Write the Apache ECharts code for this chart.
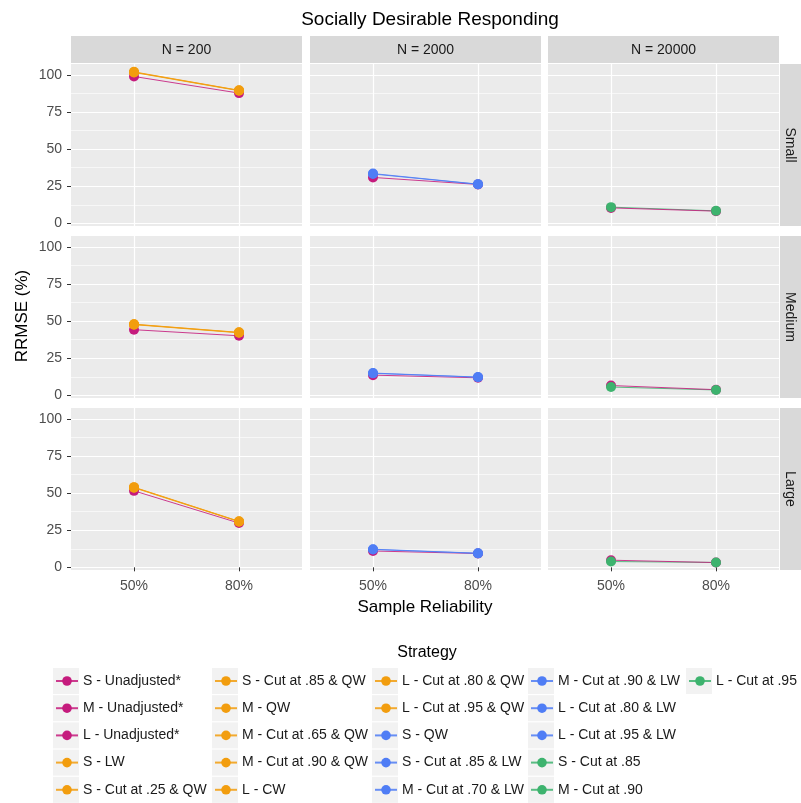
<!DOCTYPE html>
<html>
<head>
<meta charset="utf-8">
<script src="https://cdn.jsdelivr.net/npm/echarts@6/dist/echarts.min.js"></script>
<style>
  html, body { margin: 0; padding: 0; background: #fff; }
  #chart { width: 801px; height: 803px; }
</style>
</head>
<body>
<div id="chart"></div>
<script>
// facets
var sampleSizes = ['N = 200', 'N = 2000', 'N = 20000'];
var modelSizes = ['Small', 'Medium', 'Large'];
var reliability = ['50%', '80%'];
var yTicks = [0, 25, 50, 75, 100];
var yMinorTicks = [12.5, 37.5, 62.5, 87.5];

// strategies, in legend order
var strategyNames = [
    'S - Unadjusted*', 'M - Unadjusted*', 'L - Unadjusted*', 'S - LW', 'S - Cut at .25 & QW',
    'S - Cut at .85 & QW', 'M - QW', 'M - Cut at .65 & QW', 'M - Cut at .90 & QW', 'L - CW',
    'L - Cut at .80 & QW', 'L - Cut at .95 & QW', 'S - QW', 'S - Cut at .85 & LW', 'M - Cut at .70 & LW',
    'M - Cut at .90 & LW', 'L - Cut at .80 & LW', 'L - Cut at .95 & LW', 'S - Cut at .85', 'M - Cut at .90',
    'L - Cut at .95'
];
var strategyGroup = [0, 0, 0, 1, 1, 1, 1, 1, 1, 1, 1, 1, 2, 2, 2, 2, 2, 2, 3, 3, 3];
var strategyRow = [0, 1, 2, 0, 0, 0, 1, 1, 1, 2, 2, 2, 0, 0, 1, 1, 2, 2, 0, 1, 2];
var groupColors = ['#C51B7D', '#F29D0E', '#4F7DF5', '#3DB36E'];

// RRMSE (%) per strategy, for each N at 50% and 80% reliability
var n200At50 = [98.9, 44.2, 51.5, 102.0, 101.6, 101.8, 47.9, 47.6, 47.8, 54.0, 53.6, 53.8,
    null, null, null, null, null, null, null, null, null];
var n200At80 = [87.7, 40.1, 29.8, 89.6, 89.3, 89.5, 42.4, 42.1, 42.3, 31.0, 30.7, 30.9,
    null, null, null, null, null, null, null, null, null];
var n2000At50 = [30.9, 13.6, 11.0, null, null, null, null, null, null, null, null, null,
    33.5, 33.2, 15.0, 14.8, 12.2, 12.0, null, null, null];
var n2000At80 = [26.2, 11.8, 9.3, null, null, null, null, null, null, null, null, null,
    26.4, 26.3, 12.3, 12.2, 9.5, 9.4, null, null, null];
var n20000At50 = [10.4, 6.6, 4.8, null, null, null, null, null, null, null, null, null,
    null, null, null, null, null, null, 10.9, 5.6, 3.9];
var n20000At80 = [8.2, 3.8, 3.2, null, null, null, null, null, null, null, null, null,
    null, null, null, null, null, null, 8.4, 3.6, 3.3];

var valuesAt50 = [n200At50, n2000At50, n20000At50];
var valuesAt80 = [n200At80, n2000At80, n20000At80];

// layout
var FONT = '"Liberation Sans", Arial, sans-serif';
var gridLeft = [71, 310, 548];
var gridTop = [64, 236, 408];
var gridW = 231;
var gridH = 162;
var legendX = [53, 212, 372, 528, 686];
var legendY = 668;
var legendRow = 27.2;

var chart = echarts.init(document.getElementById('chart'));

var grids = [], xAxes = [], yAxes = [], minorAxes = [], lineSeries = [], pointSeries = [], graphics = [];

for (var r = 0; r < 3; r++) {
    for (var c = 0; c < 3; c++) {
        var g = r * 3 + c;
        grids.push({
            left: gridLeft[c], top: gridTop[r], width: gridW, height: gridH,
            show: true, backgroundColor: '#EBEBEB', borderWidth: 0
        });
        xAxes.push({
            type: 'value', gridIndex: g, min: 0.4, max: 2.6,
            axisLine: {show: false},
            axisTick: {show: r === 2, customValues: [1, 2], length: 4, lineStyle: {color: '#333'}},
            axisLabel: {
                show: r === 2, customValues: [1, 2], margin: 9,
                color: '#4D4D4D', fontSize: 14, fontFamily: FONT,
                formatter: function (v) { return reliability[Math.round(v) - 1]; }
            },
            splitLine: {show: true, customValues: [1, 2], lineStyle: {color: '#fff', width: 1.2}}
        });
        yAxes.push({
            type: 'value', gridIndex: g, min: -1.8, max: 107.3,
            axisLine: {show: false},
            axisTick: {show: c === 0, customValues: yTicks, length: 4, lineStyle: {color: '#333'}},
            axisLabel: {
                show: c === 0, customValues: yTicks, margin: 9,
                color: '#4D4D4D', fontSize: 14, fontFamily: FONT
            },
            splitLine: {show: true, customValues: yTicks, lineStyle: {color: '#fff', width: 1.2}}
        });
        minorAxes.push({
            type: 'value', gridIndex: g, min: -1.8, max: 107.3, position: 'right',
            axisLine: {show: false},
            axisTick: {show: false, customValues: yMinorTicks},
            axisLabel: {show: false, customValues: yMinorTicks},
            splitLine: {show: true, customValues: yMinorTicks, lineStyle: {color: '#fff', width: 0.6}}
        });
    }
}

// lines go under all points; in the N = 20000 column the green line sits under the magenta one
strategyNames.forEach(function (name, i) {
    var color = groupColors[strategyGroup[i]];
    for (var c = 0; c < 3; c++) {
        var a = valuesAt50[c][i], b = valuesAt80[c][i];
        if (a == null) continue;
        var g = strategyRow[i] * 3 + c;
        var data = [[1, a], [2, b]];
        lineSeries.push({
            name: name,
            type: 'line',
            xAxisIndex: g,
            yAxisIndex: g,
            data: data,
            symbol: 'circle',
            symbolSize: 0.01,
            showSymbol: true,
            color: color,
            z: strategyGroup[i] === 3 ? 1 : 2,
            lineStyle: {width: 1, color: color, opacity: 0.85},
            itemStyle: {color: color},
            emphasis: {disabled: true}
        });
        pointSeries.push({
            name: name,
            type: 'scatter',
            xAxisIndex: g,
            yAxisIndex: g,
            data: data,
            symbol: 'circle',
            symbolSize: 10,
            color: color,
            z: 3,
            itemStyle: {color: color, opacity: 1},
            emphasis: {disabled: true}
        });
    }
});

// facet strips
sampleSizes.forEach(function (label, c) {
    graphics.push({type: 'rect', shape: {x: gridLeft[c], y: 36, width: gridW, height: 27},
        style: {fill: '#D9D9D9'}, silent: true});
    graphics.push({type: 'text', x: gridLeft[c] + gridW / 2, y: 50,
        style: {text: label, fill: '#1A1A1A', font: '14px ' + FONT, align: 'center', verticalAlign: 'middle'}});
});
modelSizes.forEach(function (label, r) {
    graphics.push({type: 'rect', shape: {x: 780, y: gridTop[r], width: 21, height: gridH},
        style: {fill: '#D9D9D9'}, silent: true});
    graphics.push({type: 'text', x: 790, y: gridTop[r] + gridH / 2, rotation: -Math.PI / 2,
        style: {text: label, fill: '#1A1A1A', font: '14px ' + FONT, align: 'center', verticalAlign: 'middle'}});
});

// axis titles
graphics.push({type: 'text', x: 425, y: 607,
    style: {text: 'Sample Reliability', fill: '#000', font: '17px ' + FONT, align: 'center', verticalAlign: 'middle'}});
graphics.push({type: 'text', x: 22, y: 316, rotation: Math.PI / 2,
    style: {text: 'RRMSE (%)', fill: '#000', font: '17px ' + FONT, align: 'center', verticalAlign: 'middle'}});
graphics.push({type: 'text', x: 427, y: 653,
    style: {text: 'Strategy', fill: '#000', font: '16px ' + FONT, align: 'center', verticalAlign: 'middle'}});

// legend: 5 columns of 5, column-major
var legends = [];
for (var k = 0; k < 5; k++) {
    var names = strategyNames.slice(k * 5, k * 5 + 5);
    names.forEach(function (n, j) {
        graphics.push({type: 'rect', shape: {x: legendX[k], y: legendY + j * legendRow, width: 26, height: 26},
            style: {fill: '#F2F2F2'}, silent: true, z: -1});
    });
    legends.push({
        data: names,
        orient: 'vertical',
        left: legendX[k] + 2,
        top: legendY + 6,
        padding: 0,
        itemWidth: 22,
        itemHeight: 12,
        itemGap: legendRow - 14,
        selectedMode: false,
        textStyle: {fontSize: 14, lineHeight: 14, color: '#1A1A1A', fontFamily: FONT}
    });
}

var option = {
    backgroundColor: '#fff',
    animation: false,
    title: {
        text: 'Socially Desirable Responding',
        left: 425, top: 5,
        textAlign: 'center',
        textStyle: {fontSize: 19, fontWeight: 'normal', color: '#000', fontFamily: FONT}
    },
    legend: legends,
    grid: grids,
    xAxis: xAxes,
    yAxis: yAxes.concat(minorAxes),
    series: lineSeries.concat(pointSeries),
    graphic: graphics
};
chart.setOption(option);
</script>
</body>
</html>
